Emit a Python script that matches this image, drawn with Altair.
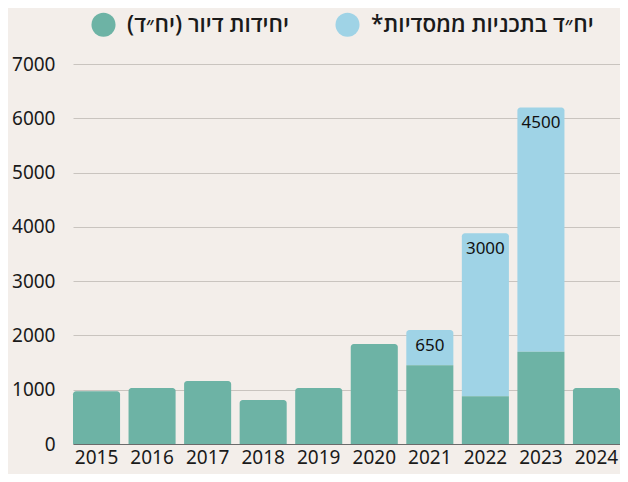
import altair as alt
import pandas as pd

years = ["2015", "2016", "2017", "2018", "2019", "2020", "2021", "2022", "2023", "2024"]
housing = [970, 1030, 1160, 810, 1030, 1840, 1450, 880, 1700, 1030]
plans = [0, 0, 0, 0, 0, 0, 650, 3000, 4500, 0]

RLM = "\u200f"
s_green = RLM + "יחידות דיור (יח״ד)" + RLM
s_blue = RLM + "יח״ד בתכניות ממסדיות*" + RLM
series = [s_green, s_blue]
colors = ["#6db3a5", "#9fd3e6"]

rows = []
for y, h, p in zip(years, housing, plans):
    rows.append({"year": y, "series": s_green, "start": 0, "end": h,
                 "top": p == 0, "label": ""})
    if p > 0:
        rows.append({"year": y, "series": s_blue, "start": h, "end": h + p,
                     "top": True, "label": str(p)})
df = pd.DataFrame(rows)

base = alt.Chart(df)
FONT = "Noto Sans"

x_scale = alt.Scale(paddingInner=0.153, paddingOuter=0)
x_enc = alt.X("year:N", title=None, sort=years, scale=x_scale,
              axis=alt.Axis(labelAngle=0, ticks=False, domain=True,
                            domainColor="#6b6b6b", domainWidth=1.2,
                            labelPadding=4, labelFontSize=19, labelFont=FONT,
                            labelColor="#1a1a1a", grid=False))
y_enc = alt.Y("start:Q", title=None,
              scale=alt.Scale(domain=[0, 7000], nice=False),
              axis=alt.Axis(values=[0, 1000, 2000, 3000, 4000, 5000, 6000, 7000],
                            format="d", ticks=False, domain=False, labelPadding=18,
                            labelFontSize=19, labelFont=FONT, labelColor="#1a1a1a",
                            grid=True, gridColor="#c9c4bf", gridWidth=1.2))
color_enc = alt.Color("series:N", sort=series,
                      scale=alt.Scale(domain=series, range=colors),
                      legend=alt.Legend(title=None, orient="none",
                                        direction="horizontal",
                                        legendX=18, legendY=-52,
                                        symbolType="circle", symbolSize=580,
                                        symbolStrokeWidth=0, symbolOpacity=1,
                                        labelFontSize=22.5, labelFont="Open Sans",
                                        labelFontWeight=600,
                                        labelColor="#1a1a1a",
                                        labelOffset=11, columnPadding=46,
                                        labelLimit=400))

rounded = base.transform_filter("datum.top").mark_bar(
    cornerRadiusTopLeft=3, cornerRadiusTopRight=3
).encode(x=x_enc, y=y_enc, y2="end:Q", color=color_enc)

flat = base.transform_filter("!datum.top").mark_bar().encode(
    x=x_enc, y=y_enc, y2="end:Q", color=color_enc)

labels = base.transform_filter("datum.label != ''").mark_text(
    baseline="middle", dy=16, fontSize=17, font=FONT, color="#111111"
).encode(x=alt.X("year:N", sort=years, scale=x_scale), y=alt.Y("end:Q"), text="label:N")

chart = alt.layer(rounded, flat, labels).properties(
    width=547, height=380,
    autosize=alt.AutoSizeParams(type="none"),
    padding={"left": 65, "top": 56, "right": 0, "bottom": 30},
    background="#f3eeea",
).configure_view(stroke=None, clip=False)

chart.save("out.html", embed_options={"renderer": "svg", "actions": False})
